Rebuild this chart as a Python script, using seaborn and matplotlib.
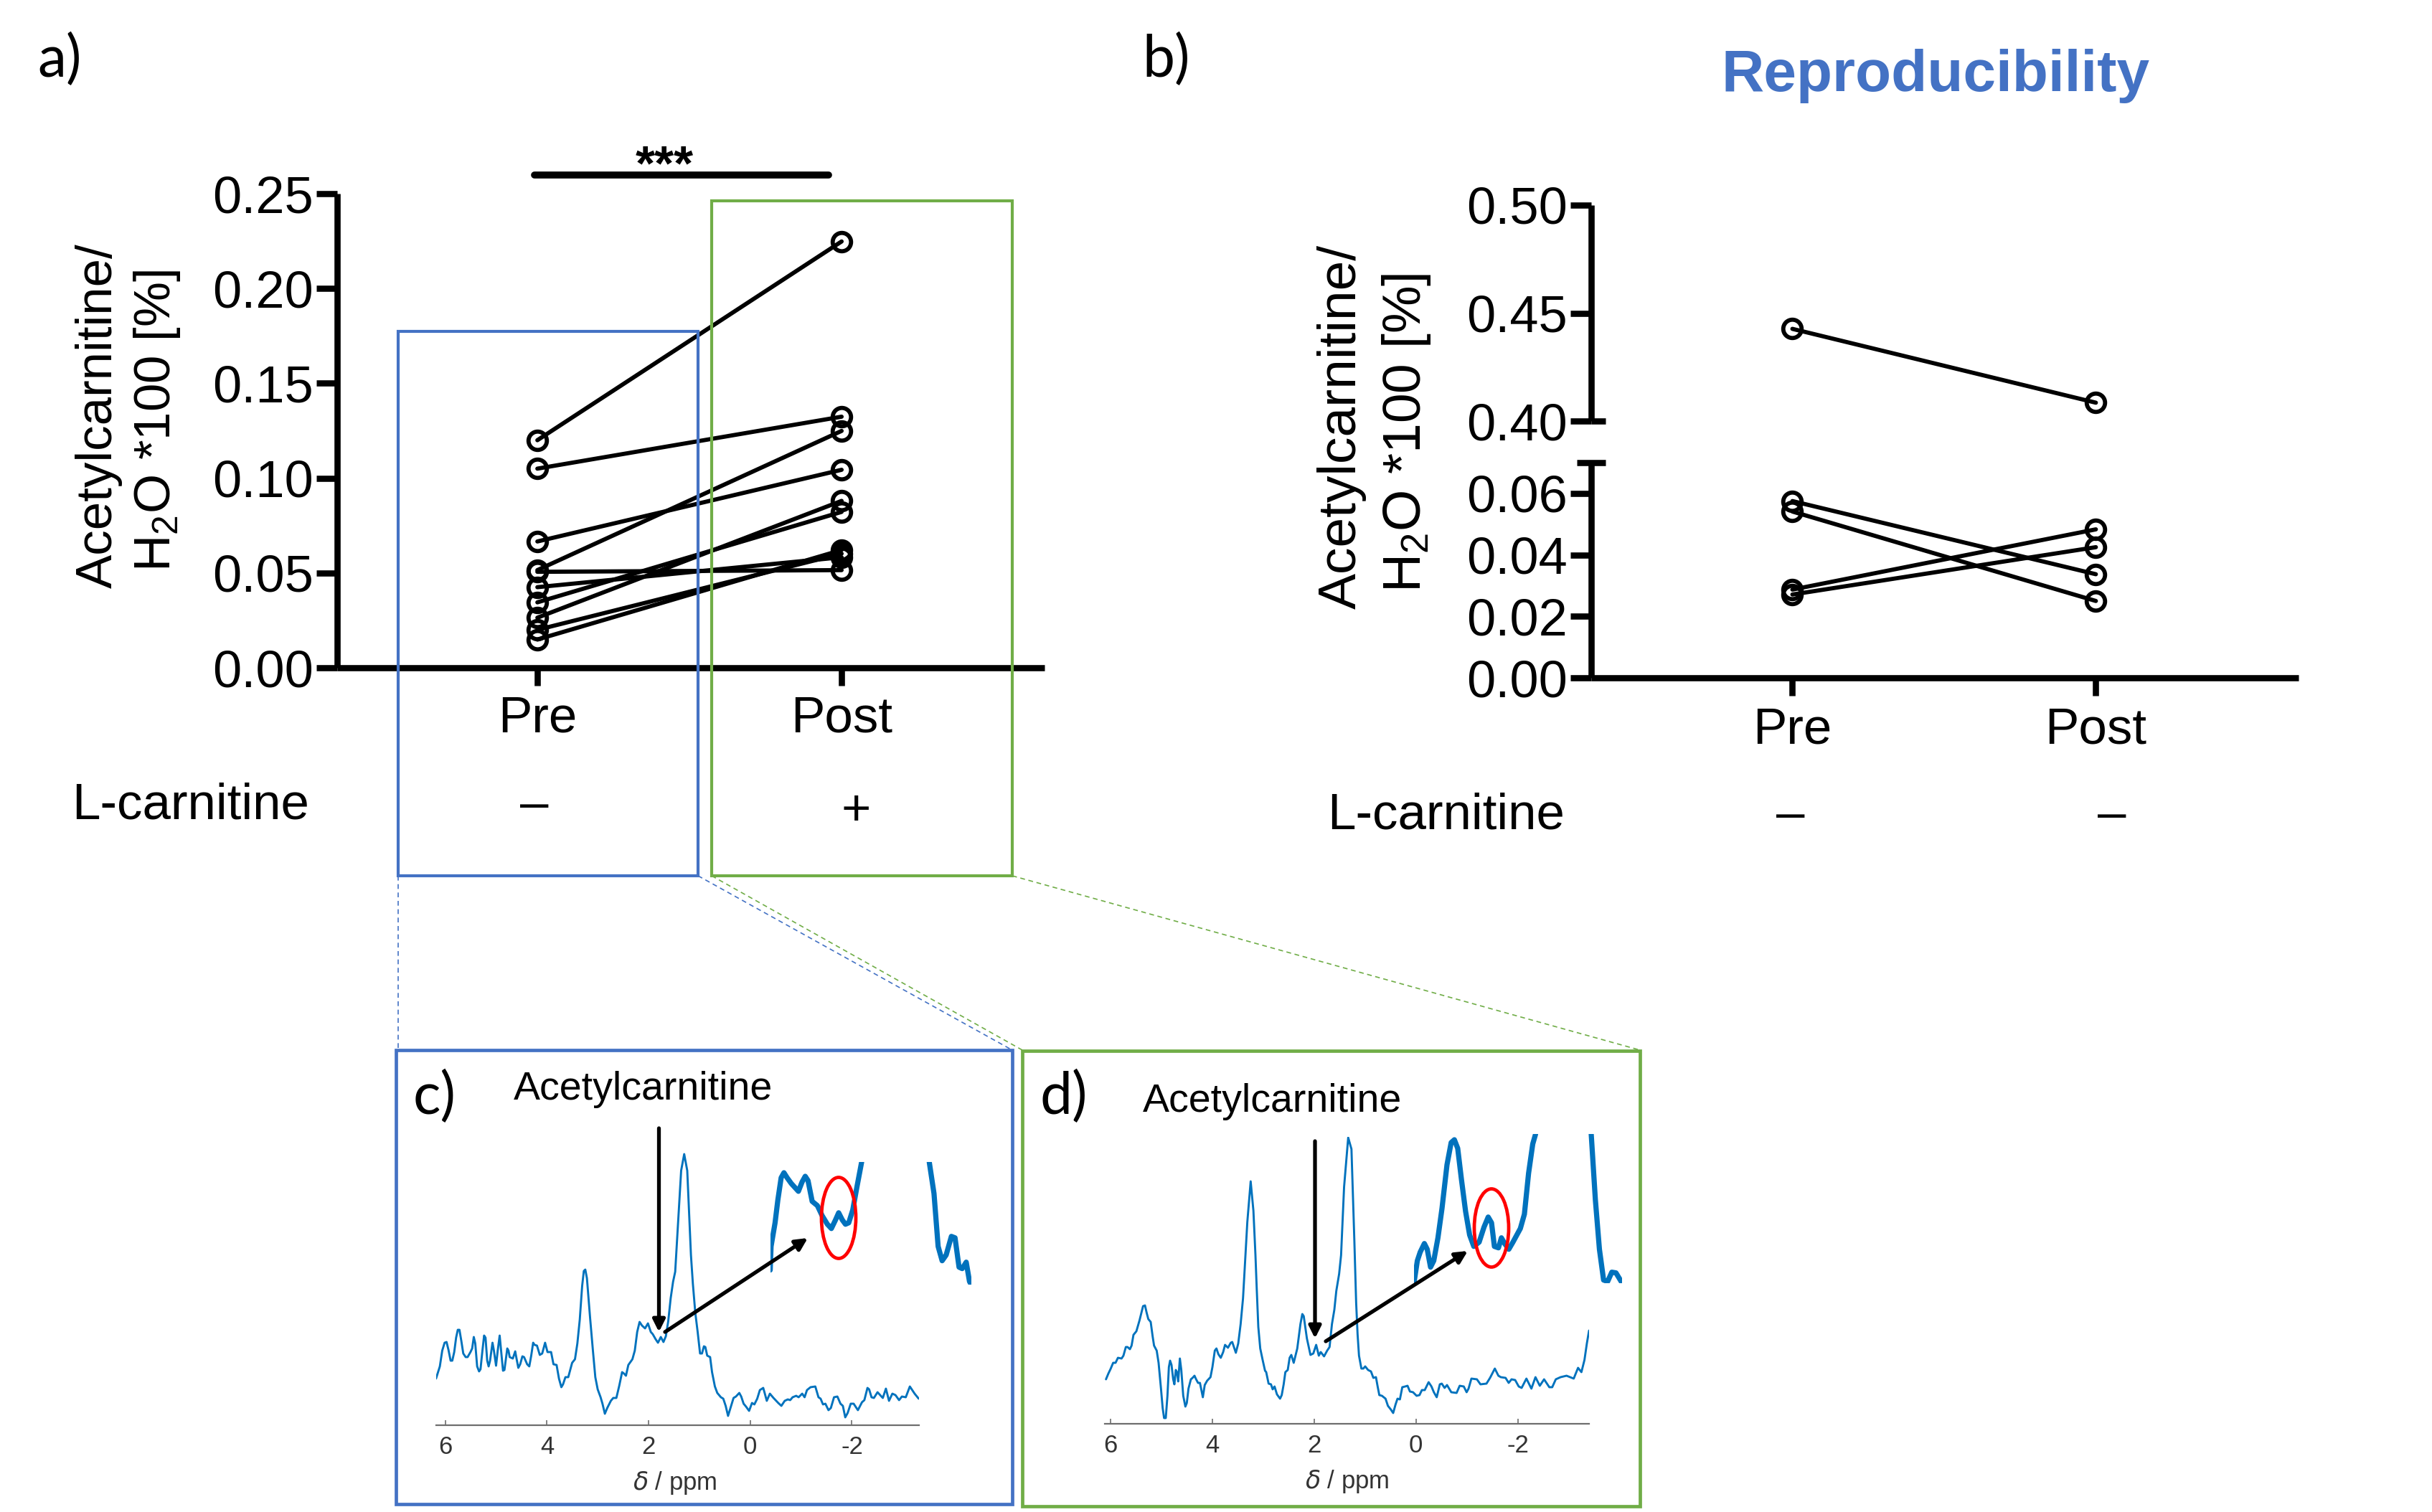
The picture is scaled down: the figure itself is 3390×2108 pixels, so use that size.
import numpy as np
import pandas as pd
import matplotlib
matplotlib.use("Agg")
import matplotlib.pyplot as plt
from matplotlib.patches import Ellipse, Rectangle
import seaborn as sns

# panel a values (pre / post of each subject)
pre_a = [0.120, 0.105, 0.0666, 0.0515, 0.0506, 0.0425, 0.0345, 0.0264, 0.0200, 0.0149]
post_a = [0.2248, 0.1324, 0.1044, 0.1249, 0.0515, 0.0583, 0.0822, 0.0880, 0.0602, 0.0621]
yticks_a = [0.00, 0.05, 0.10, 0.15, 0.20, 0.25]

# panel b values, broken axis
pre_b = [0.4427, 0.0575, 0.0541, 0.0287, 0.0271]
post_b = [0.4085, 0.0337, 0.0250, 0.0483, 0.0425]
yticks_b_low = [0.00, 0.02, 0.04, 0.06]
yticks_b_high = [0.40, 0.45, 0.50]
group_labels = ["Pre", "Post"]

ppm_ticks = [6, 4, 2, 0, -2]

# spectrum c (ppm, intensity)
ppm_c = [6.183, 6.108, 6.061, 6.014, 5.976, 5.938, 5.896, 5.863, 5.825, 5.788, 5.755, 5.722, 5.684, 5.647, 5.6, 5.562,
         5.505, 5.472, 5.44, 5.411, 5.374, 5.336, 5.308, 5.27, 5.237, 5.209, 5.176, 5.148, 5.12, 5.072, 5.044, 5.002,
         4.969, 4.931, 4.903, 4.865, 4.837, 4.781, 4.757, 4.734, 4.672, 4.625, 4.602, 4.564, 4.527, 4.484, 4.451, 4.39,
         4.348, 4.31, 4.272, 4.244, 4.197, 4.141, 4.094, 4.037, 3.99, 3.919, 3.872, 3.811, 3.764, 3.717, 3.684, 3.637,
         3.581, 3.505, 3.449, 3.402, 3.355, 3.308, 3.275, 3.246, 3.214, 3.152, 3.096, 3.049, 3.002, 2.945, 2.908, 2.861,
         2.814, 2.743, 2.696, 2.635, 2.578, 2.522, 2.484, 2.446, 2.399, 2.319, 2.272, 2.225, 2.178, 2.131, 2.07, 2.013,
         1.957, 1.919, 1.863, 1.816, 1.76, 1.708, 1.661, 1.614, 1.566, 1.519, 1.477, 1.42, 1.36, 1.30, 1.24, 1.20,
         1.167, 1.129, 1.082, 1.035, 0.988, 0.95, 0.912, 0.884, 0.847, 0.79, 0.752, 0.696, 0.649, 0.578, 0.531, 0.484,
         0.437, 0.39, 0.329, 0.282, 0.216, 0.178, 0.131, 0.084, 0.023, -0.034, -0.081, -0.137, -0.189, -0.255, -0.283,
         -0.325, -0.386, -0.457, -0.551, -0.612, -0.678, -0.739, -0.786, -0.833, -0.904, -0.951, -1.022, -1.069, -1.116,
         -1.186, -1.28, -1.342, -1.384, -1.431, -1.478, -1.539, -1.586, -1.648, -1.714, -1.775, -1.822, -1.869, -1.916,
         -1.977, -2.034, -2.118, -2.198, -2.245, -2.306, -2.339, -2.386, -2.433, -2.504, -2.608, -2.669, -2.73, -2.796,
         -2.857, -2.928, -2.984, -3.06, -3.14, -3.234, -3.314]
int_c = [65, 82, 104, 115, 116, 105, 90, 90, 102, 122, 133, 133, 117, 100, 95, 95,
         102, 107, 123, 114, 82, 75, 78, 104, 125, 122, 90, 82, 90, 115, 104, 83,
         104, 125, 104, 76, 77, 107, 104, 95, 93, 103, 94, 80, 85, 96, 95, 85,
         82, 97, 115, 112, 111, 98, 100, 115, 102, 102, 85, 84, 65, 53, 57, 67,
         67, 87, 92, 114, 147, 194, 215, 217, 205, 150, 104, 67, 50, 39, 30, 16,
         24, 34, 38, 38, 55, 74, 72, 69, 84, 92, 104, 130, 144, 139, 135, 142,
         130, 127, 120, 115, 123, 116, 124, 145, 177, 200, 214, 282, 355, 378, 355, 290,
         237, 197, 157, 130, 100, 100, 110, 109, 97, 95, 74, 54, 45, 39, 37, 27,
         13, 24, 38, 40, 45, 40, 30, 26, 20, 31, 29, 37, 49, 52, 45,
         34, 44, 38, 31, 27, 34, 36, 35, 39, 41, 39, 44, 39, 49,
         53, 54, 39, 37, 29, 30, 21, 24, 39, 40, 30, 27, 11, 17,
         30, 30, 21, 32, 35, 52, 50, 39, 38, 46, 38, 51, 34, 44,
         42, 35, 40, 39, 54, 44, 37]

# spectrum d
ppm_d = [6.085, 6.038, 5.991, 5.944, 5.897, 5.85, 5.779, 5.742, 5.695, 5.662, 5.615, 5.582, 5.545, 5.488, 5.427, 5.357,
         5.319, 5.287, 5.254, 5.207, 5.169, 5.141, 5.089, 5.052, 5.005, 4.972, 4.944, 4.911, 4.878, 4.85, 4.826, 4.798,
         4.765, 4.742, 4.714, 4.69, 4.667, 4.634, 4.606, 4.568, 4.526, 4.498, 4.465, 4.418, 4.385, 4.347, 4.315, 4.277,
         4.24, 4.183, 4.146, 4.099, 4.033, 3.995, 3.948, 3.916, 3.878, 3.831, 3.784, 3.747, 3.69, 3.634, 3.606, 3.573,
         3.535, 3.488, 3.441, 3.394, 3.362, 3.31, 3.244, 3.19, 3.15, 3.127, 3.094, 3.056, 3.009, 2.962, 2.939, 2.892,
         2.845, 2.812, 2.775, 2.728, 2.667, 2.634, 2.596, 2.563, 2.516, 2.479, 2.446, 2.399, 2.329, 2.267, 2.23, 2.202,
         2.14, 2.07, 2.014, 1.958, 1.906, 1.868, 1.803, 1.742, 1.695, 1.648, 1.601, 1.563, 1.507, 1.469, 1.41, 1.329,
         1.265, 1.208, 1.173, 1.145, 1.117, 1.07, 1.032, 0.995, 0.939, 0.882, 0.835, 0.784, 0.751, 0.718, 0.666, 0.596,
         0.549, 0.493, 0.446, 0.399, 0.361, 0.314, 0.267, 0.211, 0.164, 0.117, 0.056, -0.014, -0.071, -0.118, -0.174,
         -0.25, -0.306, -0.353, -0.409, -0.47, -0.508, -0.564, -0.611, -0.695, -0.799, -0.86, -0.94, -0.996, -1.034,
         -1.09, -1.198, -1.268, -1.386, -1.456, -1.55, -1.62, -1.667, -1.761, -1.822, -1.878, -1.949, -2.019, -2.076,
         -2.17, -2.268, -2.348, -2.433, -2.517, -2.62, -2.677, -2.747, -2.841, -2.958, -3.099, -3.184, -3.25, -3.31,
         -3.357, -3.4]
int_d = [62, 70, 77, 85, 85, 92, 91, 95, 107, 107, 104, 109, 124, 129, 144, 164,
         165, 155, 146, 142, 122, 109, 102, 85, 49, 22, 8, 8, 39, 79, 88, 82,
         62, 55, 75, 72, 59, 91, 75, 39, 24, 29, 49, 62, 64, 67, 62, 57,
         57, 37, 54, 60, 65, 79, 102, 105, 97, 92, 100, 110, 106, 113, 114, 107,
         99, 112, 139, 175, 215, 281, 338, 297, 235, 192, 135, 105, 89, 74, 72, 56,
         55, 48, 52, 41, 35, 40, 55, 72, 75, 92, 96, 85, 105, 139, 153, 150,
         119, 96, 98, 110, 95, 100, 94, 102, 107, 139, 159, 185, 209, 235, 330, 399,
         383, 255, 169, 125, 95, 77, 77, 80, 75, 73, 64, 65, 52, 40, 39, 35,
         25, 20, 15, 27, 35, 34, 51, 52, 53, 45, 44, 39, 40, 47, 47,
         58, 52, 44, 37, 55, 56, 50, 54, 44, 43, 53, 52, 44, 49,
         63, 62, 55, 56, 64, 77, 67, 65, 64, 57, 62, 61, 52, 50,
         63, 49, 65, 53, 62, 51, 51, 62, 65, 67, 63, 78, 72, 89,
         112, 130]

# magnified insets, each cut in two by the clipped peak
ins_c_ppm_left = [2.323, 2.316, 2.283, 2.26, 2.233, 2.21, 2.184, 2.15, 2.091, 2.061, 2.035, 2.012, 1.978, 1.935, 1.896,
                  1.853, 1.82, 1.786, 1.76, 1.73, 1.704, 1.677, 1.644, 1.611, 1.571]
ins_c_int_left = [20, 53, 86, 118, 149, 156, 149, 141, 130, 143, 151, 145, 116, 110, 96,
                  84, 78, 90, 100, 90, 84, 86, 104, 135, 171]
ins_c_ppm_right = [1.015, 0.976, 0.942, 0.909, 0.876, 0.833, 0.803, 0.77, 0.744, 0.711, 0.684, 0.671]
ins_c_int_right = [171, 127, 53, 33, 41, 67, 65, 24, 22, 31, 4, 0]

ins_d_ppm_left = [2.583, 2.555, 2.531, 2.496, 2.472, 2.444, 2.417, 2.382, 2.348, 2.306, 2.271, 2.244, 2.216, 2.185, 2.15,
                  2.116, 2.081, 2.036, 1.995, 1.96, 1.932, 1.908, 1.874, 1.849, 1.822, 1.787, 1.752, 1.69, 1.656, 1.621,
                  1.586, 1.562]
ins_d_int_left = [0, 31, 43, 55, 47, 22, 31, 63, 104, 165, 196, 200, 188, 145, 100,
                  67, 51, 57, 78, 92, 84, 51, 49, 63, 55, 47, 57, 76, 96, 153,
                  194, 208]
ins_d_ppm_right = [1.095, 1.06, 1.026, 0.991, 0.957, 0.922, 0.887, 0.836]
ins_d_int_right = [208, 116, 47, 4, 2, 15, 14, 0]

W, H = 3391, 2108
BLUE = "#4472C4"
GREEN = "#70AD47"
SPEC = "#0072BD"
AX_LW = 6.2

sns.set_style("ticks")
plt.rcParams["font.family"] = ["Liberation Sans", "DejaVu Sans"]
plt.rcParams["mathtext.default"] = "regular"
plt.rcParams["text.color"] = "black"
plt.rcParams["xtick.color"] = "black"
plt.rcParams["ytick.color"] = "black"
plt.rcParams["axes.edgecolor"] = "black"
plt.rcParams["axes.labelcolor"] = "black"

fig = plt.figure(figsize=(W / 100, H / 100), dpi=100)


def px_axes(left, top, right, bottom):
    ax = fig.add_axes([left / W, 1 - bottom / H, (right - left) / W, (bottom - top) / H])
    ax.patch.set_visible(False)
    return ax


def paired_frame(pre, post):
    return pd.DataFrame({
        "subject": list(range(len(pre))) * 2,
        "x": [0] * len(pre) + [1] * len(post),
        "value": list(pre) + list(post),
    })


def draw_pairs(ax, df):
    sns.lineplot(data=df, x="x", y="value", units="subject", estimator=None, color="k", ax=ax,
                 linewidth=4.2, marker="o", markersize=18.4, markerfacecolor="none",
                 markeredgecolor="k", markeredgewidth=4.2, clip_on=False)
    ax.set_xlabel("")
    ax.set_ylabel("")


def style_axis(ax, ytick_vals):
    sns.despine(ax=ax)
    for side in ["left", "bottom"]:
        ax.spines[side].set_linewidth(AX_LW)
        ax.spines[side].set_capstyle("butt")
    ax.set_yticks(ytick_vals)
    ax.set_yticklabels(["%.2f" % v for v in ytick_vals], fontsize=52)
    ax.tick_params(axis="y", length=21, width=AX_LW, pad=3)


# a)
ax_a = px_axes(470, 270, 1456, 931)
draw_pairs(ax_a, paired_frame(pre_a, post_a))
ax_a.set_xlim(-0.658, 1.667)
ax_a.set_ylim(0, 0.25)
style_axis(ax_a, yticks_a)
ax_a.set_xticks([0, 1])
ax_a.set_xticklabels(group_labels, fontsize=51)
ax_a.tick_params(axis="x", length=18, width=AX_LW, pad=10)

# b) broken axis, upper and lower part
df_b = paired_frame(pre_b, post_b)
ax_bu = px_axes(2218, 286, 3204, 587)
draw_pairs(ax_bu, df_b[df_b["value"] > 0.2])
ax_bu.set_xlim(-0.663, 1.668)
ax_bu.set_ylim(0.40, 0.50)
style_axis(ax_bu, yticks_b_high)
ax_bu.spines["bottom"].set_visible(False)
ax_bu.set_xticks([])
ax_bu.plot([0, 0.02], [0.40, 0.40], color="k", lw=AX_LW, clip_on=False,
           transform=ax_bu.get_yaxis_transform(), solid_capstyle="butt")

ax_bl = px_axes(2218, 645, 3204, 945)
draw_pairs(ax_bl, df_b[df_b["value"] < 0.2])
ax_bl.set_xlim(-0.663, 1.668)
ax_bl.set_ylim(0, 0.07)
style_axis(ax_bl, yticks_b_low)
ax_bl.set_xticks([0, 1])
ax_bl.set_xticklabels(group_labels, fontsize=51)
ax_bl.tick_params(axis="x", length=18, width=AX_LW, pad=11)
ax_bl.plot([-0.02, 0.02], [0.07, 0.07], color="k", lw=AX_LW, clip_on=False,
           transform=ax_bl.get_yaxis_transform(), solid_capstyle="butt")


def draw_spectrum(frame, ppm, intensity, ins_frame, ins_left, ins_right, ins_xlim, ins_ymax):
    left, right, bottom, ppm_left, ppm_right = frame
    ax = px_axes(left, bottom - 400, right, bottom)
    sns.lineplot(x=ppm, y=intensity, sort=False, estimator=None, color=SPEC, linewidth=2.1, ax=ax)
    ax.set_xlim(ppm_left, ppm_right)
    ax.set_ylim(0, 400)
    sns.despine(ax=ax, left=True)
    ax.spines["bottom"].set_color("#6e6e6e")
    ax.spines["bottom"].set_linewidth(1.6)
    ax.set_yticks([])
    ax.set_xticks(ppm_ticks)
    ax.set_xticklabels([str(v) for v in ppm_ticks], fontsize=25, color="#333333")
    ax.tick_params(axis="x", direction="in", length=5, width=1.2, color="#6e6e6e", pad=10)
    ax.set_xlabel("")
    ax.set_ylabel("")

    ins = px_axes(*ins_frame)
    sns.lineplot(x=ins_left[0], y=ins_left[1], sort=False, estimator=None, color=SPEC, linewidth=5.2, ax=ins)
    sns.lineplot(x=ins_right[0], y=ins_right[1], sort=False, estimator=None, color=SPEC, linewidth=5.2, ax=ins)
    ins.set_xlim(*ins_xlim)
    ins.set_ylim(0, ins_ymax)
    ins.axis("off")


draw_spectrum((608, 1281, 1987, 6.18, -3.32), ppm_c, int_c,
              (1073.6, 1620, 1353.6, 1790.6), (ins_c_ppm_left, ins_c_int_left),
              (ins_c_ppm_right, ins_c_int_right), (2.323, 0.671), 171)
draw_spectrum((1540, 2215, 1985, 6.108, -3.40), ppm_d, int_d,
              (1971, 1581, 2261, 1788.6), (ins_d_ppm_left, ins_d_int_left),
              (ins_d_ppm_right, ins_d_int_right), (2.583, 0.836), 208)

# overlay in image pixels for boxes, arrows and free text
ov = fig.add_axes([0, 0, 1, 1])
ov.set_xlim(0, W)
ov.set_ylim(H, 0)
ov.axis("off")


def box(x0, y0, x1, y1, color, lw):
    ov.add_patch(Rectangle((x0, y0), x1 - x0, y1 - y0, fill=False, edgecolor=color, linewidth=lw))


box(555, 462, 973, 1221, BLUE, 3)
box(992, 280, 1411, 1221, GREEN, 3)
box(552, 1464, 1411, 2097, BLUE, 3.4)
box(1425, 1465, 2286, 2100, GREEN, 3.4)

for x0, x1, col in [(555, 555, BLUE), (973, 1411, BLUE), (992, 1425, GREEN), (1411, 2286, GREEN)]:
    ov.plot([x0, x1], [1221, 1464], color=col, lw=1.2, ls=(0, (4, 3)))

ov.plot([745, 1155], [244, 244], color="k", lw=7, solid_capstyle="round")
ov.text(926, 232, "***", fontsize=50, fontweight="bold", ha="center", va="center")

for start, end in [((918.5, 1573), (918.5, 1857)), ((927, 1857), (1126, 1726)),
                   ((1833, 1591), (1833, 1866)), ((1848, 1870), (2046, 1744))]:
    ov.annotate("", xy=end, xytext=start,
                arrowprops=dict(arrowstyle="-|>,head_length=10,head_width=5", mutation_scale=1,
                                lw=3.8, color="k", shrinkA=0, shrinkB=0))

ov.add_patch(Ellipse((1169, 1698), 48, 113, fill=False, edgecolor="red", linewidth=3.4))
ov.add_patch(Ellipse((2079, 1712), 48, 109, fill=False, edgecolor="red", linewidth=3.4))

for label, x, y in [("a)", 83, 83), ("b)", 1626, 83), ("c)", 606, 1529), ("d)", 1483, 1529)]:
    ov.text(x, y, label, fontsize=58, family="Lato", ha="center", va="center")

ov.text(2698, 106, "Reproducibility", fontsize=59, fontweight="bold", color=BLUE, ha="center", va="center")

ov.text(138, 580, "Acetylcarnitine/", fontsize=51, rotation=90, ha="center", va="center")
ov.text(219, 587, "H$_2$O *100 [%]", fontsize=51, rotation=90, ha="center", va="center")
ov.text(1870, 595, "Acetylcarnitine/", fontsize=54, rotation=90, ha="center", va="center")
ov.text(1961, 603, "H$_2$O *100 [%]", fontsize=54, rotation=90, ha="center", va="center")

ov.text(100, 1124, "L-carnitine", fontsize=51, ha="left", va="center")
ov.text(745, 1124, "–", fontsize=51, ha="center", va="center")
ov.text(1193, 1132, "+", fontsize=51, ha="center", va="center")
ov.text(1850, 1138, "L-carnitine", fontsize=51, ha="left", va="center")
ov.text(2496, 1138, "–", fontsize=51, ha="center", va="center")
ov.text(2944, 1138, "–", fontsize=51, ha="center", va="center")

ov.text(897, 1519, "Acetylcarnitine", fontsize=40, ha="center", va="center")
ov.text(1774, 1536, "Acetylcarnitine", fontsize=40, ha="center", va="center")
ov.text(941, 2068, r"$\mathit{\delta}$ / ppm", fontsize=25, color="#333333", ha="center", va="center")
ov.text(1878, 2065, r"$\mathit{\delta}$ / ppm", fontsize=25, color="#333333", ha="center", va="center")

fig.savefig("out.png", dpi=100)
